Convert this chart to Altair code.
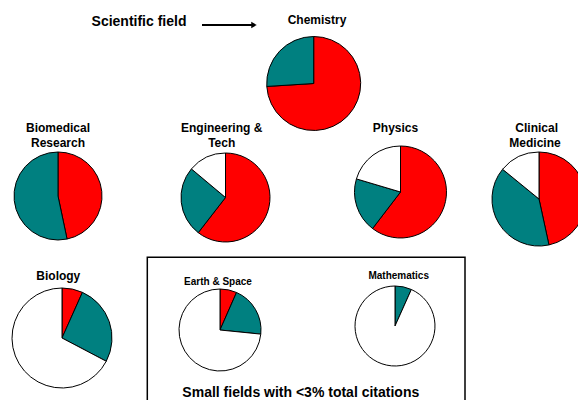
import altair as alt
import pandas as pd

# ---- data (percent shares) ----
fields = ["Chemistry", "Biomedical Research", "Engineering & Tech", "Physics",
          "Clinical Medicine", "Biology", "Earth & Space", "Mathematics"]
red_share = [74.0, 46.7, 60.5, 60.4, 46.6, 6.7, 6.6, 0.0]
teal_share = [26.0, 53.3, 25.6, 19.2, 39.3, 26.0, 20.0, 6.7]
white_share = [0.0, 0.0, 13.9, 20.4, 14.1, 67.3, 73.4, 93.3]
groups = ["Red", "Teal", "White"]
group_colors = ["#FF0000", "#008080", "#FFFFFF"]

# ---- layout (chart pixel coordinates) ----
W, H = 570, 392
pie_cx = [305.7, 50, 217.5, 392.5, 531, 54, 212, 387]
pie_cy = [75.5, 188, 189.5, 184, 191, 330, 322, 318]
pie_r = [47, 44, 44.5, 46, 47, 50, 41, 40]

label_text = ["Chemistry", "Biomedical", "Research", "Engineering &", "Tech",
              "Physics", "Clinical", "Medicine", "Biology",
              "Earth & Space", "Mathematics"]
label_x = [309, 50, 50, 213.7, 213.7, 387.5, 528.7, 527, 50.3, 210, 390.7]
label_y = [12, 120, 135, 120, 135, 120.3, 120, 135, 268, 273.7, 267.7]
label_size = [12, 12, 12, 12, 12, 12, 12, 12, 12, 10, 10]

rows = []
for f, r, t, w in zip(fields, red_share, teal_share, white_share):
    for i, (g, v) in enumerate(zip(groups, [r, t, w])):
        if v > 0:
            rows.append({"field": f, "group": g, "idx": i, "value": v})
df = pd.DataFrame(rows)

FONT = "Liberation Sans"
layers = []

# box around small fields
layers.append(
    alt.Chart(pd.DataFrame({"a": [0]})).mark_rect(
        fillOpacity=0, stroke="black", strokeWidth=1.5
    ).encode(x=alt.value(139.3), x2=alt.value(457), y=alt.value(249.3), y2=alt.value(H + 20))
)

for f, cx, cy, r in zip(fields, pie_cx, pie_cy, pie_r):
    layers.append(
        alt.Chart(df).transform_filter(alt.datum.field == f).mark_arc(
            outerRadius=r, stroke="black", strokeWidth=1
        ).encode(
            theta=alt.Theta("value:Q", stack=True),
            color=alt.Color("group:N", scale=alt.Scale(domain=groups, range=group_colors), legend=None),
            order=alt.Order("idx:Q"),
            x=alt.value(cx),
            y=alt.value(cy),
        )
    )

for txt, lx, ly, s in zip(label_text, label_x, label_y, label_size):
    layers.append(
        alt.Chart(pd.DataFrame({"t": [txt]})).mark_text(
            font=FONT, fontWeight="bold", fontSize=s, color="black", baseline="middle", align="center"
        ).encode(text="t:N", x=alt.value(lx), y=alt.value(ly))
    )

# header and footer
layers.append(
    alt.Chart(pd.DataFrame({"t": ["Scientific field"]})).mark_text(
        font=FONT, fontWeight="bold", fontSize=14, color="black", baseline="middle", align="center"
    ).encode(text="t:N", x=alt.value(131), y=alt.value(13.7))
)
layers.append(
    alt.Chart(pd.DataFrame({"t": ["Small fields with <3% total citations"]})).mark_text(
        font=FONT, fontWeight="bold", fontSize=14, color="black", baseline="middle", align="center"
    ).encode(text="t:N", x=alt.value(292.8), y=alt.value(384.5))
)
# arrow
layers.append(
    alt.Chart(pd.DataFrame({"a": [0]})).mark_rule(color="black", strokeWidth=2).encode(
        x=alt.value(194), x2=alt.value(244), y=alt.value(17)
    )
)
layers.append(
    alt.Chart(pd.DataFrame({"a": [0]})).mark_point(
        shape="triangle-right", filled=True, color="black", size=40, opacity=1
    ).encode(x=alt.value(246), y=alt.value(17))
)

chart = alt.layer(*layers).resolve_scale(theta="independent").properties(
    width=W, height=H, padding=0, autosize=alt.AutoSizeParams(type="none")
).configure_view(strokeWidth=0)

chart.save("out.html", embed_options={"renderer": "svg", "actions": False})
